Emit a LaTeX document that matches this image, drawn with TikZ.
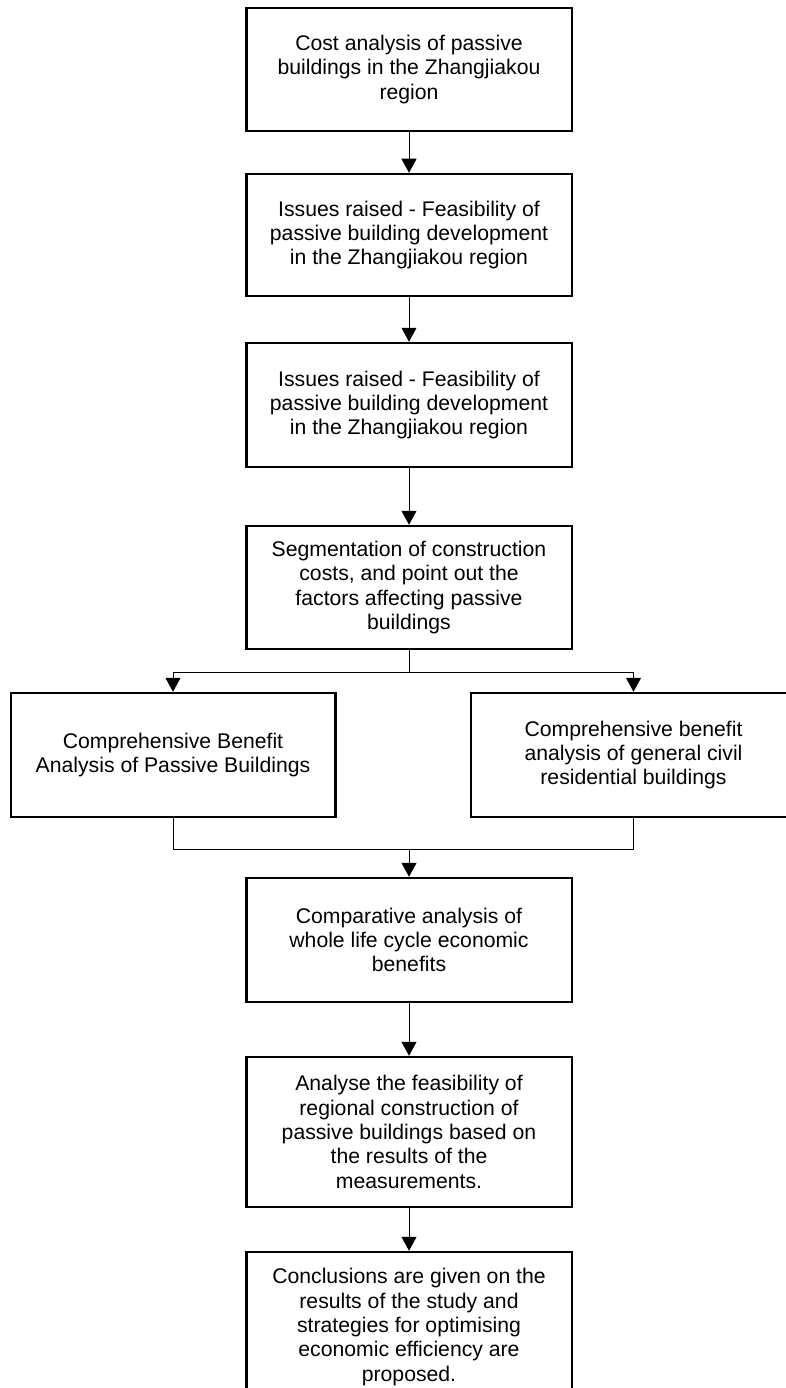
\documentclass[tikz,border=0pt]{standalone}
\usepackage{fontspec}
\setmainfont{Liberation Sans}
\usetikzlibrary{arrows.meta}
\begin{document}
\begin{tikzpicture}[x=1pt,y=-1pt,
  box/.style={draw, line width=2.5pt, minimum width=325.5pt, align=center,
    font=\fontsize{21.2}{24.4}\selectfont, inner sep=0pt},
  link/.style={line width=1pt},
  arr/.style={link, -{Triangle[width=15pt,length=14pt]}}]
\useasboundingbox (0,0) rectangle (786,1388);
\clip (0,0) rectangle (786,1388);

% main column of steps
\node[box, minimum height=123pt] (b1) at (409,69.5)
  {Cost analysis of passive\\buildings in the Zhangjiakou\\region};
\node[box, minimum height=122pt] (b2) at (409,235)
  {Issues raised - Feasibility of\\passive building development\\in the Zhangjiakou region};
\node[box, minimum height=124pt] (b3) at (409,405)
  {Issues raised - Feasibility of\\passive building development\\in the Zhangjiakou region};
\node[box, minimum height=123pt] (b4) at (409,587.5)
  {Segmentation of construction\\costs, and point out the\\factors affecting passive\\buildings};

% two parallel analyses
\node[box, minimum width=324.5pt, minimum height=124pt] (bl) at (173,755)
  {Comprehensive Benefit\\Analysis of Passive Buildings};
\node[box, minimum width=325pt, minimum height=124pt] (br) at (633.5,755)
  {Comprehensive benefit\\analysis of general civil\\residential buildings};

\node[box, minimum height=124pt] (b6) at (409,940)
  {Comparative analysis of\\whole life cycle economic\\benefits};
\node[box, minimum height=150pt] (b7) at (409,1132)
  {Analyse the feasibility of\\regional construction of\\passive buildings based on\\the results of the\\measurements.};
\node[box, minimum height=150pt] (b8) at (409,1327)
  {Conclusions are given on the\\results of the study and\\strategies for optimising\\economic efficiency are\\proposed.};

% connectors
\draw[arr] (b1) -- (b2);
\draw[arr] (b2) -- (b3);
\draw[arr] (b3) -- (b4);

\coordinate (split) at (409,672);
\draw[link] (b4) -- (split);
\draw[arr] (split) -| (bl);
\draw[arr] (split) -| (br);

\coordinate (join) at (409,849);
\draw[link] (bl) |- (join);
\draw[link] (br) |- (join);
\draw[arr] (join) -- (b6);

\draw[arr] (b6) -- (b7);
\draw[arr] (b7) -- (b8);
\end{tikzpicture}
\end{document}
